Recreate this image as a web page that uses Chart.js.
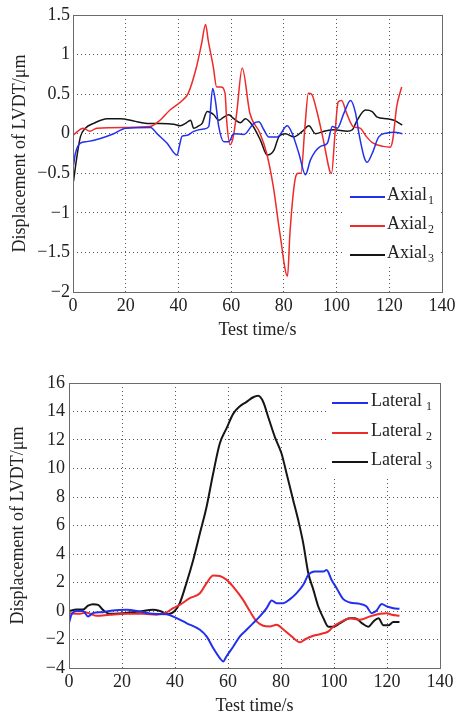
<!DOCTYPE html>
<html>
<head>
<meta charset="utf-8">
<script src="https://cdn.jsdelivr.net/npm/chart.js@4.4.0/dist/chart.umd.min.js"></script>
<style>
  html, body { margin: 0; padding: 0; background: #fff; }
  #wrap { position: relative; width: 465px; height: 718px; overflow: hidden; }
  canvas { position: absolute; left: 0; }
  #axialChart { top: 0; }
  #lateralChart { top: 345px; }
</style>
</head>
<body>
<div id="wrap">
  <canvas id="axialChart" width="465" height="345"></canvas>
  <canvas id="lateralChart" width="465" height="373"></canvas>
</div>
<script>
// ---- data (time in s, displacement in um) ----
var axialNames = ["Axial", "Axial", "Axial"];
var lateralNames = ["Lateral", "Lateral", "Lateral"];
var seriesSubs = ["1", "2", "3"];

var axial1Time = [0.2, 0.9, 2.8, 5.3, 10.4, 15.4, 20, 29.4, 31.9, 35.7, 39.5, 40.4, 41.4, 43.3, 45.8, 49.6, 51.5, 53, 54, 55.3, 57.2, 59.1, 61, 64.8, 68.6, 70.5, 72.4, 74.3, 77.5, 81.3, 83.2, 85.7, 88.2, 90.1, 93.9, 96.5, 98.4, 100.3, 102.8, 105.3, 107.2, 108.5, 110.4, 111.6, 113.5, 116, 119.2, 121.8, 125];
var axial1 = [-0.4, -0.25, -0.12, -0.1, -0.06, 0, 0.07, 0.08, 0, -0.12, -0.27, -0.15, -0.03, -0.02, 0.03, 0.06, 0.09, 0.57, 0.42, 0.09, -0.1, -0.1, 0, -0.01, 0.13, 0.15, 0.05, -0.04, -0.04, 0.1, 0, -0.25, -0.52, -0.33, -0.16, -0.12, 0.09, 0.07, 0.26, 0.42, 0.26, 0, -0.29, -0.36, -0.25, -0.04, 0.01, 0.02, 0];

var axial2Time = [0, 3.9, 6.4, 9, 20.4, 29.2, 33, 36.8, 41.8, 43.7, 46.9, 48.8, 50.3, 51.3, 53.2, 54.5, 56.1, 57.7, 58.3, 59.6, 60.8, 62.1, 64.2, 67.1, 70.9, 73.5, 76, 78.5, 81.4, 82.3, 84.2, 85.5, 86.5, 88, 89.3, 90.5, 92.4, 95, 97.5, 98.1, 99.4, 100.6, 101.9, 103.8, 106.3, 108.9, 111.4, 113.9, 117.7, 120.3, 121.3, 122.8, 124.7];
var axial2 = [-0.02, 0.07, 0.03, 0.07, 0.08, 0.09, 0.17, 0.3, 0.43, 0.51, 0.85, 1.14, 1.38, 1.18, 0.85, 0.59, 0.59, 0.51, 0.17, -0.14, -0.04, 0.26, 0.83, 0.26, 0.01, -0.25, -0.67, -1.26, -1.8, -1.26, -0.59, -0.5, -0.5, 0.09, 0.51, 0.5, 0.3, -0.08, -0.48, -0.5, 0, 0.4, 0.42, 0.26, 0.09, 0.07, -0.04, -0.12, -0.16, -0.17, -0.08, 0.34, 0.59];

var axial3Time = [0.2, 1.3, 2.8, 4.7, 7.8, 12.9, 18, 23, 28.1, 33.2, 38.2, 40.8, 42.7, 44.6, 45.8, 47.7, 49, 50.9, 53.4, 55.3, 57.2, 59.1, 61, 63.5, 65.4, 68, 71.1, 73.7, 76.2, 78.1, 80.6, 83.8, 87, 89.5, 92, 95.2, 99, 104, 106, 107.8, 111, 113.5, 115.4, 119.2, 121.8, 124.9];
var axial3 = [-0.6, -0.33, -0.04, 0.07, 0.13, 0.19, 0.19, 0.16, 0.13, 0.13, 0.12, 0.1, 0.13, 0.17, 0.07, 0.1, 0.13, 0.28, 0.24, 0.17, 0.21, 0.24, 0.19, 0.14, 0.19, 0.11, -0.08, -0.27, -0.21, -0.04, 0, -0.04, 0.03, 0.1, 0, 0.03, 0.05, 0.03, 0.05, 0.17, 0.3, 0.28, 0.21, 0.19, 0.17, 0.11];

var lateral1Time = [0, 0.9, 3, 5.3, 7.2, 9, 12.8, 16.6, 21.7, 26.7, 31.7, 36.8, 40.6, 44.3, 49.4, 51.9, 54.4, 56.9, 58.2, 59.4, 62, 64.5, 67, 69.5, 72, 74.6, 76.5, 78.3, 80.9, 83.4, 85.9, 88.4, 90.3, 92.8, 96, 97.2, 99.1, 101, 103.5, 106, 109.8, 112.3, 114.2, 116.1, 118, 119.9, 122.4, 124.7];
var lateral1 = [-0.85, -0.26, 0, 0, -0.38, -0.15, -0.08, 0.04, 0.08, -0.03, -0.2, -0.22, -0.5, -0.85, -1.32, -1.78, -2.6, -3.3, -3.54, -3.19, -2.49, -1.78, -1.32, -0.85, -0.38, 0.2, 0.74, 0.55, 0.55, 0.83, 1.25, 1.84, 2.53, 2.77, 2.77, 2.88, 2.18, 1.6, 0.83, 0.6, 0.5, 0.32, -0.15, 0.04, 0.5, 0.32, 0.2, 0.15];

var lateral2Time = [0, 4, 6.5, 10.3, 15.4, 21.7, 28, 33, 36.8, 39.3, 41.8, 45.6, 49.4, 51.9, 54.4, 56.9, 59.4, 62, 65.7, 68.3, 70.8, 73.3, 75.8, 78.3, 80.9, 84, 87.2, 89, 92.2, 95.3, 97.9, 99.7, 102.3, 106, 109.8, 113.6, 117.4, 119.9, 121.8, 124.7];
var lateral2 = [-0.15, -0.2, -0.1, -0.33, -0.26, -0.2, -0.2, -0.26, -0.1, 0.2, 0.43, 0.9, 1.25, 1.95, 2.5, 2.46, 2.2, 1.7, 0.78, -0.03, -0.73, -1.03, -1.08, -0.97, -1.3, -1.78, -2.2, -2, -1.74, -1.6, -1.43, -1.1, -0.8, -0.5, -0.62, -0.38, -0.2, -0.15, -0.26, -0.33];

var lateral3Time = [0, 2.8, 5.3, 7.2, 9, 11, 12.8, 15.4, 20.4, 26.7, 31.7, 34.3, 37.4, 39.9, 41.8, 44.3, 46.9, 49.4, 51.9, 54.4, 56.9, 59.4, 62, 64.5, 67, 69.5, 71.4, 73.3, 75.2, 77.7, 80.2, 82.1, 84.6, 86.5, 88.4, 90.3, 92.2, 94.1, 96, 97.9, 99.7, 102.3, 106, 108, 110.5, 113, 114.9, 116.8, 118.6, 120.5, 122.4, 124.7];
var lateral3 = [0, 0.1, 0.1, 0.37, 0.48, 0.43, 0.08, -0.2, -0.15, -0.03, 0.08, 0, -0.22, 0, 0.55, 1.95, 3.6, 5.45, 7.3, 9.65, 11.75, 12.8, 13.85, 14.37, 14.67, 15, 15.1, 14.67, 13.6, 12.2, 11.05, 9.65, 7.78, 6.38, 4.75, 2.65, 1.5, 0.3, -0.5, -1.1, -1.1, -0.85, -0.5, -0.5, -0.85, -1.1, -0.73, -0.5, -1, -1, -0.78, -0.78];

var timeTicks = [0, 20, 40, 60, 80, 100, 120, 140];
var axialTicks = [-2, -1.5, -1, -0.5, 0, 0.5, 1, 1.5];
var lateralTicks = [-4, -2, 0, 2, 4, 6, 8, 10, 12, 14, 16];

var seriesColors = ["#2230ee", "#ee2a2a", "#151515"];
var fontFamily = "'Liberation Serif', 'Times New Roman', serif";

function toPoints(times, values) {
  return times.map(function (t, i) {
    return { x: t, y: values[i] };
  });
}

function minusSign(v) {
  return String(v).replace("-", "\u2212");
}

// white box with line samples and subscripted names, placed inside the plot
var insetLegend = {
  id: "insetLegend",
  afterDraw: function (chart, args, opts) {
    var ctx = chart.ctx;
    ctx.save();
    ctx.fillStyle = "#fff";
    ctx.fillRect(opts.box[0], opts.box[1], opts.box[2], opts.box[3]);
    chart.data.datasets.forEach(function (ds, i) {
      var y = opts.rows[i];
      ctx.strokeStyle = ds.borderColor;
      ctx.lineWidth = 2;
      ctx.beginPath();
      ctx.moveTo(opts.line[0], y);
      ctx.lineTo(opts.line[1], y);
      ctx.stroke();
      ctx.fillStyle = "#222";
      ctx.textAlign = "left";
      ctx.textBaseline = "alphabetic";
      ctx.font = "18px " + fontFamily;
      ctx.fillText(ds.label, opts.textX, y + 3);
      var w = ctx.measureText(ds.label).width;
      ctx.font = "12px " + fontFamily;
      ctx.fillText(ds.sub, opts.textX + w + opts.subGap, y + 7);
    });
    ctx.restore();
  }
};

var plotFrame = {
  id: "plotFrame",
  afterDraw: function (chart) {
    var a = chart.chartArea;
    var ctx = chart.ctx;
    ctx.save();
    ctx.setLineDash([]);
    ctx.strokeStyle = "#6a6a6a";
    ctx.lineWidth = 1;
    ctx.strokeRect(Math.round(a.left) + 0.5, Math.round(a.top) + 0.5,
      Math.round(a.right - a.left), Math.round(a.bottom - a.top));
    ctx.restore();
  }
};

function buildDatasets(names, timeArrays, valueArrays, width) {
  return names.map(function (name, i) {
    return {
      label: name,
      sub: seriesSubs[i],
      data: toPoints(timeArrays[i], valueArrays[i]),
      borderColor: seriesColors[i],
      borderWidth: width,
      pointRadius: 0,
      fill: false,
      cubicInterpolationMode: "monotone"
    };
  });
}

function buildOptions(cfg) {
  var tickFont = { family: fontFamily, size: 18 };
  return {
    responsive: false,
    animation: false,
    layout: { padding: { top: cfg.padTop, right: cfg.padRight, left: 0, bottom: 0 } },
    plugins: {
      legend: { display: false },
      tooltip: { enabled: false },
      insetLegend: cfg.legend
    },
    scales: {
      x: {
        type: "linear",
        min: 0,
        max: 140,
        afterBuildTicks: function (scale) {
          scale.ticks = timeTicks.map(function (v) { return { value: v }; });
        },
        afterFit: function (scale) { scale.height = cfg.xHeight; },
        grid: { color: "#555", lineWidth: 1, drawTicks: false },
        border: { display: false, dash: [1, 3] },
        ticks: { padding: 3, color: "#222", font: tickFont, maxRotation: 0, callback: minusSign },
        title: {
          display: true,
          text: "Test time/s",
          color: "#222",
          font: tickFont,
          padding: { top: 0, bottom: cfg.xTitlePad }
        }
      },
      y: {
        type: "linear",
        min: cfg.yTicks[0],
        max: cfg.yTicks[cfg.yTicks.length - 1],
        afterBuildTicks: function (scale) {
          scale.ticks = cfg.yTicks.map(function (v) { return { value: v }; });
        },
        afterFit: function (scale) { scale.width = cfg.yWidth; },
        grid: { color: "#555", lineWidth: 1, drawTicks: false },
        border: { display: false, dash: [1, 3] },
        ticks: { padding: cfg.yTickPad, color: "#222", font: tickFont, callback: minusSign },
        title: {
          display: true,
          text: "Displacement of LVDT/\u03bcm",
          color: "#222",
          font: tickFont,
          padding: { top: cfg.yTitlePad, bottom: 0 }
        }
      }
    }
  };
}

new Chart(document.getElementById("axialChart"), {
  type: "line",
  data: {
    datasets: buildDatasets(axialNames, [axial1Time, axial2Time, axial3Time], [axial1, axial2, axial3], 1.5)
  },
  options: buildOptions({
    padTop: 15,
    padRight: 23,
    xHeight: 53,
    yWidth: 73,
    yTicks: axialTicks,
    yTickPad: 3,
    xTitlePad: 4,
    yTitlePad: 9,
    legend: { box: [343, 180, 98, 86], rows: [197, 226, 255], line: [350, 385], textX: 387, subGap: 1 }
  }),
  plugins: [insetLegend, plotFrame]
});

new Chart(document.getElementById("lateralChart"), {
  type: "line",
  data: {
    datasets: buildDatasets(lateralNames, [lateral1Time, lateral2Time, lateral3Time], [lateral1, lateral2, lateral3], 2)
  },
  options: buildOptions({
    padTop: 38,
    padRight: 25,
    xHeight: 50,
    yWidth: 69,
    yTicks: lateralTicks,
    yTickPad: 4,
    xTitlePad: 1,
    yTitlePad: 7,
    legend: { box: [327, 38, 113, 94], rows: [58, 88, 117], line: [332, 368], textX: 371, subGap: 4 }
  }),
  plugins: [insetLegend, plotFrame]
});
</script>
</body>
</html>
